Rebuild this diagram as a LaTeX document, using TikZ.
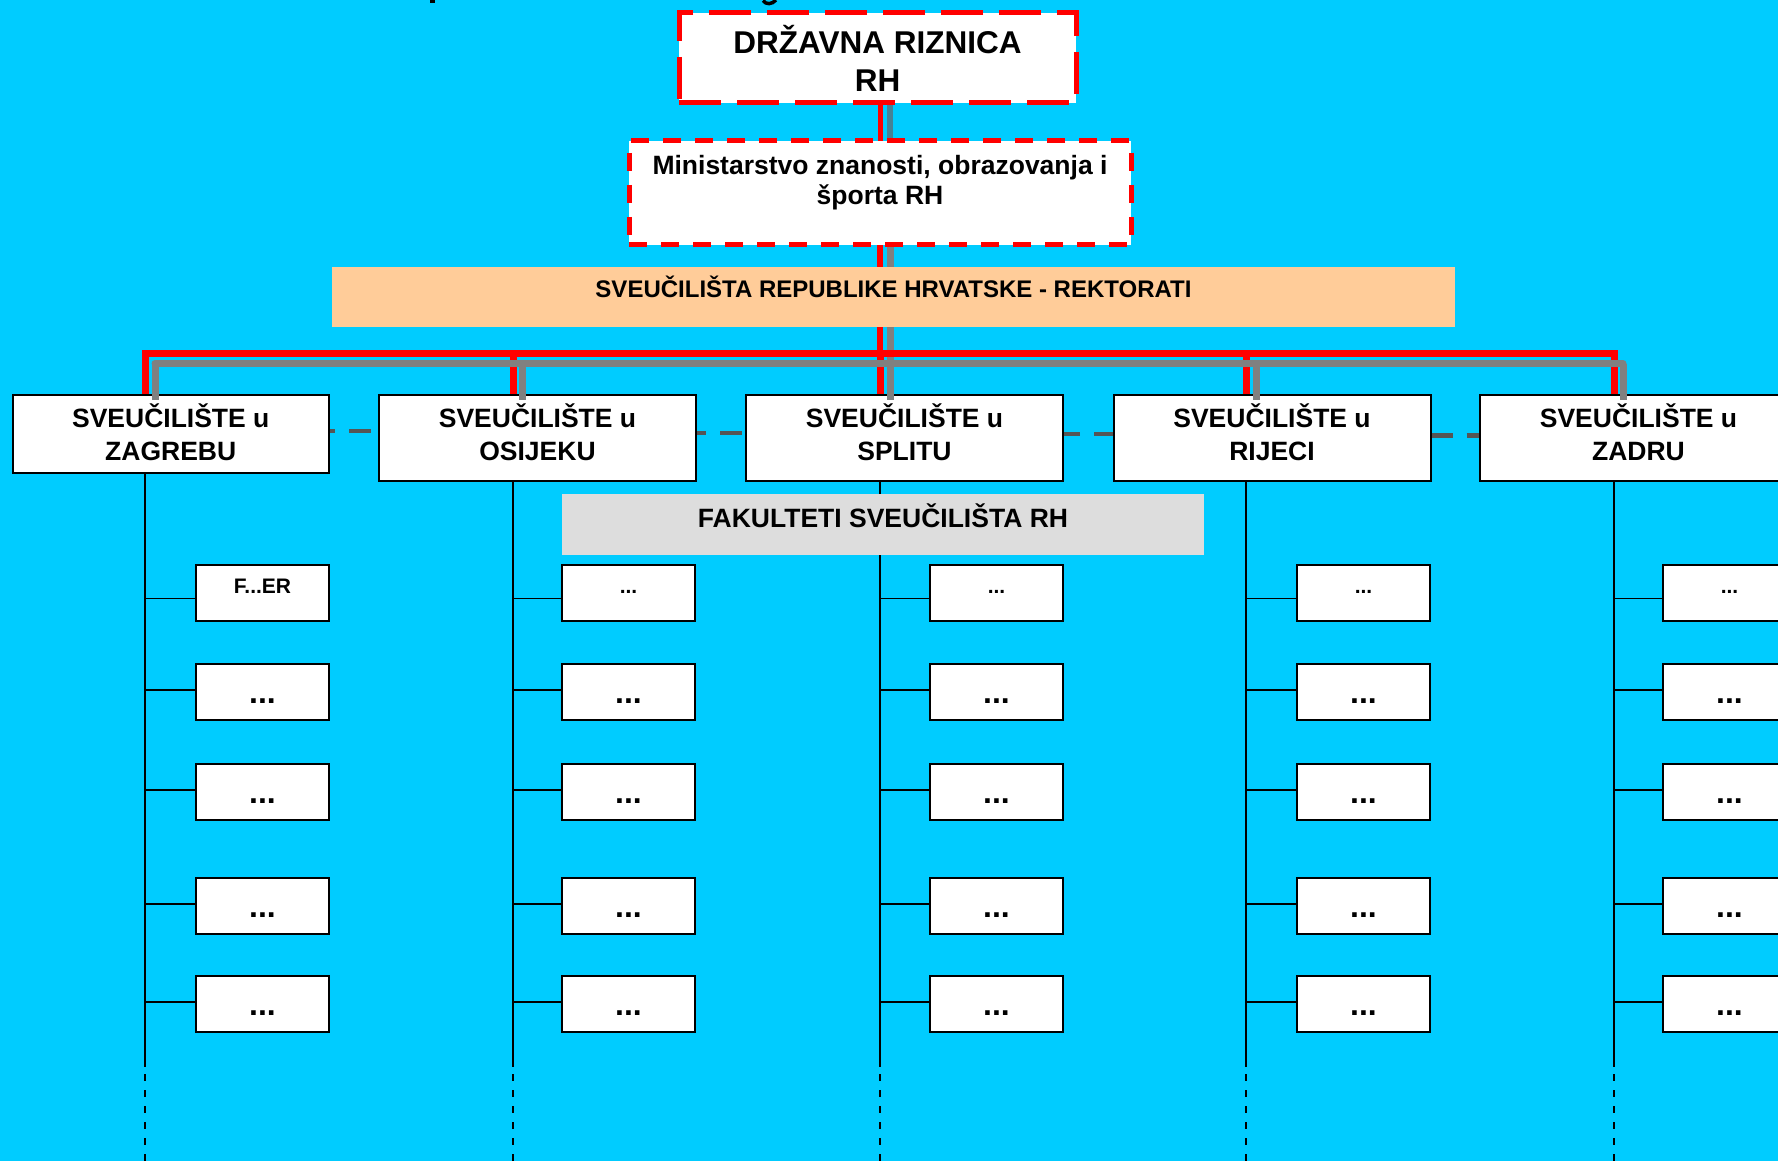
\documentclass[tikz,border=0pt]{standalone}
\usepackage{fontspec}
\setmainfont{Liberation Sans}
\definecolor{bgcyan}{RGB}{0,204,255}
\definecolor{peach}{RGB}{255,204,153}
\definecolor{facgray}{RGB}{221,221,221}
\definecolor{linegray}{RGB}{128,128,128}
\definecolor{dashgray}{RGB}{85,85,85}
\definecolor{hatchgray}{RGB}{70,130,150}
\pgfdeclarelayer{bg}
\pgfdeclarelayer{lines}
\pgfsetlayers{bg,lines,main}
\tikzset{
  basebox/.style={inner sep=0pt, outer sep=0pt, align=center, anchor=north west},
  topbox/.style={basebox, draw=red, fill=white, line width=5pt, dash pattern=on 42pt off 16pt,
    minimum width=397pt, text height=79pt, text depth=11pt, font=\fontsize{31.5}{38}\selectfont\bfseries},
  minbox/.style={basebox, draw=red, fill=white, line width=5pt, dash pattern=on 18pt off 14pt,
    minimum width=502pt, text height=64pt, text depth=40pt, font=\fontsize{26.5}{30}\selectfont\bfseries},
  peachbar/.style={basebox, fill=peach, minimum width=1123pt, text height=30pt, text depth=30pt,
    font=\fontsize{24}{29}\selectfont\bfseries},
  facbar/.style={basebox, fill=facgray, minimum width=642pt, text height=33pt, text depth=28pt,
    font=\fontsize{26.5}{32}\selectfont\bfseries},
  unibox/.style={basebox, draw=black, fill=white, line width=2pt, minimum width=317pt,
    text height=65pt, text depth=21pt, font=\fontsize{26.5}{33}\selectfont\bfseries},
  facboxA/.style={basebox, draw=black, fill=white, line width=2pt, minimum width=133pt,
    text height=28pt, text depth=28pt, font=\fontsize{21}{25}\selectfont\bfseries},
  facboxB/.style={basebox, draw=black, fill=white, line width=2pt, minimum width=133pt,
    text height=39pt, text depth=17pt, font=\fontsize{32}{38}\selectfont\bfseries},
  redl/.style={draw=red, line width=7pt},
  grayl/.style={draw=linegray, line width=7pt},
  trunkl/.style={draw=black, line width=1.6pt},
  trunkdash/.style={trunkl, dash pattern=on 7pt off 9pt},
  unidash/.style={draw=dashgray, line width=4.5pt, dash pattern=on 22pt off 14pt}
}
\begin{document}
\begin{tikzpicture}[x=1pt,y=-1pt]
\useasboundingbox (0,0) rectangle (1778,1161);
\begin{pgfonlayer}{bg}
  \fill[bgcyan] (0,0) rectangle (1778,1161);
  % descenders of a cut-off title
  \fill[black] (430,0) rectangle (434.5,3);
  \draw[black, line width=3.5pt] (763,0.5) .. controls (766,5) and (772,4.5) .. (776,0);
\end{pgfonlayer}

% top level nodes
\node[topbox] (rz) at (679,13) {DRŽAVNA RIZNICA\\RH};
\node[minbox] (mz) at (629,141) {Ministarstvo znanosti, obrazovanja i\\športa RH};
\node[peachbar] (rek) at (332,267) {SVEUČILIŠTA REPUBLIKE HRVATSKE - REKTORATI};

% universities
\node[unibox, text depth=13pt, minimum width=316.5pt] (u1) at (12.5,395) {SVEUČILIŠTE u\\ZAGREBU};
\node[unibox] (u2) at (379,395) {SVEUČILIŠTE u\\OSIJEKU};
\node[unibox] (u3) at (746,395) {SVEUČILIŠTE u\\SPLITU};
\node[unibox] (u4) at (1113.5,395) {SVEUČILIŠTE u\\RIJECI};
\node[unibox] (u5) at (1480,395) {SVEUČILIŠTE u\\ZADRU};

\node[facbar] (fak) at (562,494) {FAKULTETI SVEUČILIŠTA RH};

% bracket coordinates
\foreach \k/\rx/\gx in {1/145/155, 2/513/522, 3/880/890, 4/1246/1256, 5/1614/1623}{
  \coordinate (r\k) at (\rx,353);
  \coordinate (g\k) at (\gx,363.5);
}

% faculties
\foreach \i/\tx/\fx in {1/145/196, 2/513/562, 3/880/930, 4/1246/1297, 5/1614/1663}{
  \coordinate (t\i) at (\tx,1067);
  \coordinate (e\i) at (\tx,1161);
  \node[facboxA] (f\i1) at (\fx,565) {\ifnum\i=1 F...ER\else ...\fi};
  \foreach \j/\ry in {2/664, 3/764, 4/878, 5/976}{
    \node[facboxB] (f\i\j) at (\fx,\ry) {...};
  }
}

\begin{pgfonlayer}{lines}
  % spine
  \draw[redl, line width=5pt] (rz.south -| r3) -- (mz.north -| r3);
  \draw[draw=hatchgray, line width=6pt] (rz.south -| g3) -- ([yshift=-3pt]mz.north -| g3);
  \draw[redl, line width=6pt] (mz.south -| r3) -- (r3);
  \draw[grayl] (mz.south -| g3) -- (g3);
  % red bracket
  \draw[redl] (r1 |- u1.north) -- (r1) -- (r5) -- (r5 |- u5.north);
  \foreach \k in {2,3,4}{ \draw[redl] (r\k) -- (r\k |- u\k.north); }
  % gray horizontal
  \draw[grayl, line cap=round] (g1) -- (g5);
  % dashed links between universities
  \draw[unidash, dash phase=16pt] ([yshift=-36pt]u1.north east) -- ([yshift=-36pt]u2.north west);
  \draw[unidash, dash phase=12pt] ([yshift=-38pt]u2.north east) -- ([yshift=-38pt]u3.north west);
  \draw[unidash, dash phase=5pt] ([yshift=-39pt]u3.north east) -- ([yshift=-39pt]u4.north west);
  \draw[unidash, dash phase=0pt] ([yshift=-40.5pt]u4.north east) -- ([yshift=-40.5pt]u5.north west);
  % trunks and branches
  \foreach \i in {1,...,5}{
    \draw[trunkl] (u\i.south -| t\i) -- (t\i);
    \draw[trunkdash] ([yshift=-7pt]t\i) -- (e\i);
    \draw[trunkl] ([yshift=-5.5pt]f\i1.west) -- ([yshift=-5.5pt]f\i1.west -| t\i);
    \foreach \j in {2,...,5}{
      \draw[trunkl] ([yshift=2pt]f\i\j.west) -- ([yshift=2pt]f\i\j.west -| t\i);
    }
  }
\end{pgfonlayer}

% gray drops drawn over the university boxes
\foreach \k in {1,...,5}{
  \draw[grayl] (g\k) -- ([yshift=-5pt]g\k |- u\k.north);
}
\end{tikzpicture}
\end{document}
